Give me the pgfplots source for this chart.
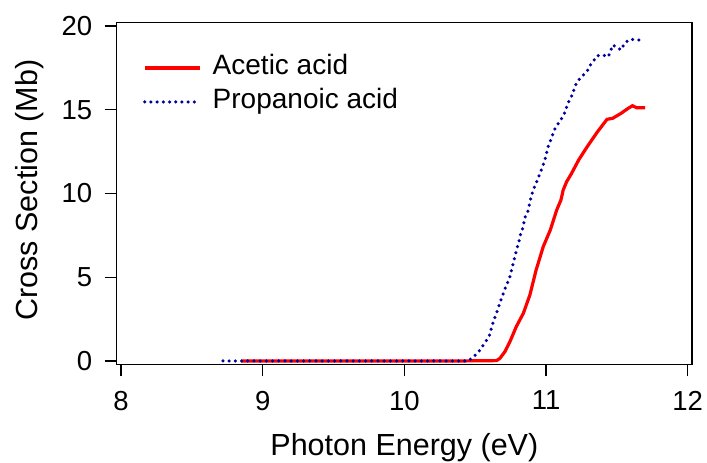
\documentclass[border=0pt]{standalone}
\usepackage{fontspec}
\setmainfont{Liberation Sans}
\usepackage{pgfplots}
\pgfplotsset{compat=1.18}
\definecolor{navy}{RGB}{0,0,155}
\definecolor{myred}{RGB}{255,0,0}
\begin{document}
\begin{tikzpicture}
\begin{axis}[
  scale only axis, width=575.3pt, height=341.6pt,
  xmin=7.97, xmax=12.03, ymin=-0.2, ymax=20.2,
  xtick={8,9,10,11,12}, ytick={0,5,10,15,20},
  tick align=outside, xtick pos=bottom, ytick pos=left,
  major tick length=12pt,
  axis line style={line width=1.2pt},
  every tick/.style={black,line width=1.2pt},
  /pgf/number format/assume math mode=true,
  tick label style={font=\fontsize{27.5}{33}\selectfont},
  xticklabel style={yshift=-11pt},
  yticklabel style={xshift=-9pt},
  xlabel={Photon Energy (eV)}, ylabel={Cross Section (Mb)},
  label style={font=\fontsize{30.5}{36}\selectfont},
  xlabel style={at={(axis description cs:0.5,0)}, anchor=base, yshift=-90.7pt},
  ylabel style={at={(axis description cs:-0.1385,0.51)}, anchor=base},
  legend style={draw=none, fill=none, inner sep=0pt, outer sep=0pt,
    at={(axis description cs:0,1)}, anchor=north west, xshift=26.3pt, yshift=-32.3pt,
    font=\fontsize{28}{33}\selectfont, row sep=8pt,
    nodes={inner sep=0pt, text height=20pt, text depth=6pt}},
  legend cell align=left,
  legend image code/.code={\draw[#1] (0pt,0pt) -- (55pt,0pt); \path[draw=none] (0pt,0pt) -- (68pt,0pt);},
]
\addplot[myred, line width=3.2pt] coordinates {
(8.85,0) (10.40,0) (10.65,0.02) (10.675,0.16) (10.71,0.56) (10.745,1.15) (10.79,2.05)
(10.84,2.85) (10.886,3.94) (10.93,5.43) (10.98,6.82) (11.03,7.82) (11.075,9.01)
(11.105,9.61) (11.121,10.21) (11.145,10.70) (11.18,11.2) (11.23,12.0) (11.29,12.79)
(11.36,13.65) (11.43,14.43) (11.47,14.49) (11.53,14.79) (11.58,15.09) (11.61,15.24)
(11.64,15.12) (11.70,15.12)
};
\addlegendentry{Acetic acid}
\addplot[navy, line width=3.5pt, line cap=round, dash pattern=on 0pt off 6.2pt] coordinates {
(8.72,0) (10.45,0) (10.48,0.2) (10.517,0.46) (10.55,0.85) (10.576,1.19) (10.60,1.51)
(10.62,2.15) (10.65,2.85) (10.675,3.48) (10.69,3.84) (10.72,4.54) (10.74,4.88)
(10.76,5.53) (10.77,5.87) (10.79,6.57) (10.81,7.18) (10.82,7.56) (10.835,7.92)
(10.85,8.56) (10.87,8.88) (10.88,9.25) (10.89,9.63) (10.91,10.25) (10.93,10.59)
(10.945,10.94) (10.96,11.27) (10.99,11.94) (11.00,12.3) (11.02,12.96) (11.04,13.3)
(11.05,13.63) (11.07,13.99) (11.10,14.33) (11.12,14.63) (11.14,14.99) (11.15,15.33)
(11.17,15.64) (11.19,15.98) (11.20,16.32) (11.22,16.68) (11.25,16.97) (11.29,17.31)
(11.31,17.63) (11.34,17.97) (11.36,18.23) (11.40,18.27) (11.44,18.17) (11.455,18.51)
(11.47,18.87) (11.50,18.73) (11.53,18.57) (11.55,18.91) (11.58,19.16) (11.61,19.2)
(11.66,19.16) (11.69,19.3)
};
\addlegendentry{Propanoic acid}
\coordinate (sw) at (rel axis cs:0,0);
\coordinate (ne) at (rel axis cs:1,1);
\end{axis}
\pgfresetboundingbox
\path[use as bounding box] ([xshift=-116.7pt,yshift=-98.7pt]sw) rectangle ([xshift=15pt,yshift=22.7pt]ne);
\end{tikzpicture}
\end{document}
